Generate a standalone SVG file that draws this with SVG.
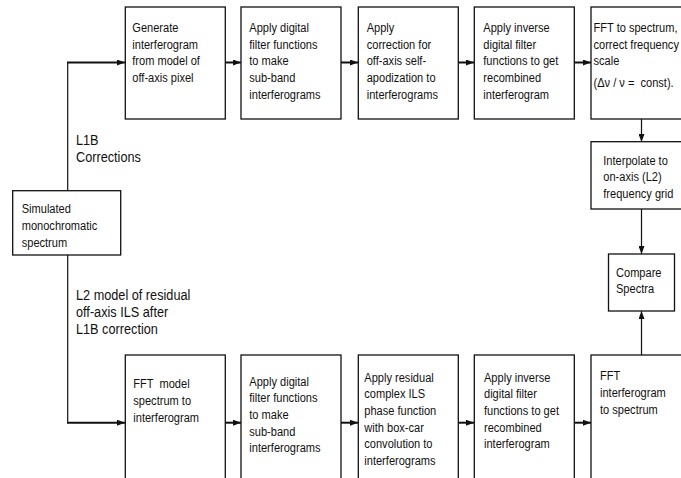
<svg xmlns="http://www.w3.org/2000/svg" width="681" height="478" viewBox="0 0 681 478">
<defs>
<style>
.box{fill:#fff;stroke:#111;stroke-width:1.3}
text{font-family:"Liberation Sans",Arial,sans-serif;fill:#111;white-space:pre}
.t{font-size:13.5px}
.lbl{font-size:15.5px}
.h{fill:none;stroke:#111;stroke-width:2}
.v{fill:none;stroke:#111;stroke-width:1.2}
</style>
<marker id="ah" markerUnits="userSpaceOnUse" markerWidth="8" markerHeight="6" refX="8" refY="3" orient="auto">
<path d="M0,0 L8,3 L0,6 z" fill="#111"/>
</marker>
</defs>
<rect width="681" height="478" fill="#fff"/>

<g id="connectors">
<polyline class="v" points="67.7,190.7 67.7,62.5"/>
<line class="h" x1="67" y1="62.5" x2="125" y2="62.5" marker-end="url(#ah)"/>
<line class="h" x1="225" y1="62.5" x2="241" y2="62.5" marker-end="url(#ah)"/>
<line class="h" x1="341" y1="62.5" x2="358" y2="62.5" marker-end="url(#ah)"/>
<line class="h" x1="458" y1="62.5" x2="474" y2="62.5" marker-end="url(#ah)"/>
<line class="h" x1="574" y1="62.5" x2="591" y2="62.5" marker-end="url(#ah)"/>
<polyline class="v" points="67.7,255 67.7,422.7"/>
<line class="h" x1="67" y1="422.7" x2="125" y2="422.7" marker-end="url(#ah)"/>
<line class="h" x1="225" y1="422.7" x2="241" y2="422.7" marker-end="url(#ah)"/>
<line class="h" x1="341" y1="422.7" x2="358" y2="422.7" marker-end="url(#ah)"/>
<line class="h" x1="458" y1="422.7" x2="474" y2="422.7" marker-end="url(#ah)"/>
<line class="h" x1="574" y1="422.7" x2="591" y2="422.7" marker-end="url(#ah)"/>
<line class="v" x1="641.5" y1="119" x2="641.5" y2="142" marker-end="url(#ah)"/>
<line class="v" x1="641.5" y1="209" x2="641.5" y2="254" marker-end="url(#ah)"/>
<line class="v" x1="641.5" y1="355" x2="641.5" y2="311" marker-end="url(#ah)"/>
</g>

<g id="labels">
<g transform="translate(76,0) scale(0.82,1)">
<text class="lbl" x="0" y="145.5"><tspan x="0">L1B</tspan><tspan x="0" dy="16.5">Corrections</tspan></text>
<text class="lbl" x="0" y="300.5"><tspan x="0">L2 model of residual</tspan><tspan x="0" dy="17">off-axis ILS after</tspan><tspan x="0" dy="17">L1B correction</tspan></text>
</g>
</g>

<g id="simulated">
<rect class="box" x="12.7" y="190.7" width="108" height="64.3"/>
<g transform="translate(21.7,0) scale(0.82,1)">
<text class="t" x="0" y="213.5"><tspan x="0">Simulated</tspan><tspan x="0" dy="16.7">monochromatic</tspan><tspan x="0" dy="16.7">spectrum</tspan></text>
</g>
</g>

<g id="t1">
<rect class="box" x="125.3" y="7" width="100" height="112"/>
<g transform="translate(132.3,0) scale(0.82,1)">
<text class="t" x="0" y="32"><tspan x="0">Generate</tspan><tspan x="0" dy="16.7">interferogram</tspan><tspan x="0" dy="16.7">from model of</tspan><tspan x="0" dy="16.7">off-axis pixel</tspan></text>
</g>
</g>
<g id="t2">
<rect class="box" x="241" y="7" width="100" height="112"/>
<g transform="translate(249.3,0) scale(0.82,1)">
<text class="t" x="0" y="32"><tspan x="0">Apply digital</tspan><tspan x="0" dy="16.7">filter functions</tspan><tspan x="0" dy="16.7">to make</tspan><tspan x="0" dy="16.7">sub-band</tspan><tspan x="0" dy="16.7">interferograms</tspan></text>
</g>
</g>
<g id="t3">
<rect class="box" x="358.3" y="7" width="100" height="112"/>
<g transform="translate(366.7,0) scale(0.82,1)">
<text class="t" x="0" y="32"><tspan x="0">Apply</tspan><tspan x="0" dy="16.7">correction for</tspan><tspan x="0" dy="16.7">off-axis self-</tspan><tspan x="0" dy="16.7">apodization to</tspan><tspan x="0" dy="16.7">interferograms</tspan></text>
</g>
</g>
<g id="t4">
<rect class="box" x="474.3" y="7" width="100" height="112"/>
<g transform="translate(483.3,0) scale(0.82,1)">
<text class="t" x="0" y="32"><tspan x="0">Apply inverse</tspan><tspan x="0" dy="16.7">digital filter</tspan><tspan x="0" dy="16.7">functions to get</tspan><tspan x="0" dy="16.7">recombined</tspan><tspan x="0" dy="16.7">interferogram</tspan></text>
</g>
</g>
<g id="t5">
<rect class="box" x="591" y="7" width="100" height="112"/>
<g transform="translate(593.5,0) scale(0.82,1)">
<text class="t" x="0" y="32"><tspan x="0">FFT to spectrum,</tspan><tspan x="0" dy="16.7">correct frequency</tspan><tspan x="0" dy="16.7">scale</tspan><tspan x="0" dy="21.8">(Δν / ν =  const).</tspan></text>
</g>
</g>

<g id="interpolate">
<rect class="box" x="591" y="141.7" width="100" height="67.3"/>
<g transform="translate(603.3,0) scale(0.82,1)">
<text class="t" x="0" y="165"><tspan x="0">Interpolate to</tspan><tspan x="0" dy="16.3">on-axis (L2)</tspan><tspan x="0" dy="16.3">frequency grid</tspan></text>
</g>
</g>

<g id="compare">
<rect class="box" x="608.5" y="254" width="66" height="57"/>
<g transform="translate(616,0) scale(0.82,1)">
<text class="t" x="0" y="276.7"><tspan x="0">Compare</tspan><tspan x="0" dy="16">Spectra</tspan></text>
</g>
</g>

<g id="b1">
<rect class="box" x="125.3" y="355" width="100" height="140"/>
<g transform="translate(133.3,0) scale(0.82,1)">
<text class="t" x="0" y="388.5"><tspan x="0">FFT  model</tspan><tspan x="0" dy="16.7">spectrum to</tspan><tspan x="0" dy="16.7">interferogram</tspan></text>
</g>
</g>
<g id="b2">
<rect class="box" x="241" y="355" width="100" height="140"/>
<g transform="translate(249.3,0) scale(0.82,1)">
<text class="t" x="0" y="385.7"><tspan x="0">Apply digital</tspan><tspan x="0" dy="16.7">filter functions</tspan><tspan x="0" dy="16.7">to make</tspan><tspan x="0" dy="16.7">sub-band</tspan><tspan x="0" dy="16.7">interferograms</tspan></text>
</g>
</g>
<g id="b3">
<rect class="box" x="358.3" y="355" width="100" height="140"/>
<g transform="translate(364.3,0) scale(0.82,1)">
<text class="t" x="0" y="381.7"><tspan x="0">Apply residual</tspan><tspan x="0" dy="16.7">complex ILS</tspan><tspan x="0" dy="16.7">phase function</tspan><tspan x="0" dy="16.7">with box-car</tspan><tspan x="0" dy="16.7">convolution to</tspan><tspan x="0" dy="16.7">interferograms</tspan></text>
</g>
</g>
<g id="b4">
<rect class="box" x="474.3" y="355" width="100" height="140"/>
<g transform="translate(484,0) scale(0.82,1)">
<text class="t" x="0" y="381.7"><tspan x="0">Apply inverse</tspan><tspan x="0" dy="16.7">digital filter</tspan><tspan x="0" dy="16.7">functions to get</tspan><tspan x="0" dy="16.7">recombined</tspan><tspan x="0" dy="16.7">interferogram</tspan></text>
</g>
</g>
<g id="b5">
<rect class="box" x="591" y="355" width="100" height="140"/>
<g transform="translate(600,0) scale(0.82,1)">
<text class="t" x="0" y="380.5"><tspan x="0">FFT</tspan><tspan x="0" dy="16.7">interferogram</tspan><tspan x="0" dy="16.7">to spectrum</tspan></text>
</g>
</g>
</svg>
